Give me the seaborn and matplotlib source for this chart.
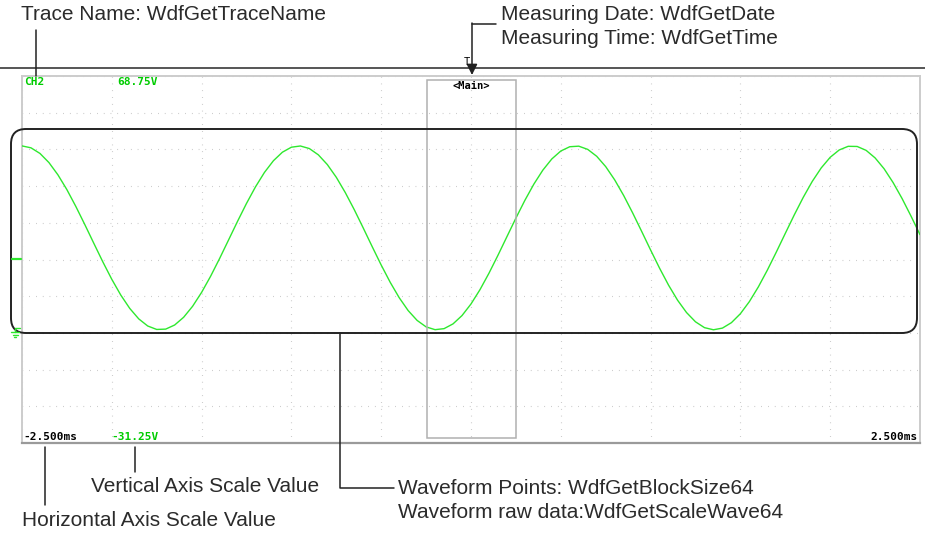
import numpy as np
import matplotlib.pyplot as plt
import seaborn as sns
from matplotlib.patches import FancyBboxPatch, Rectangle

# screen scale shown on the display
t_left, t_right = -2.5, 2.5        # ms
v_top, v_bottom = 68.75, -31.25    # V

# CH2 waveform, one value every 0.05 ms
ch2_volts = [
    49.70, 49.18, 47.65, 45.16, 41.82, 37.78, 33.18, 28.24, 23.15, 18.11,
    13.35, 9.06, 5.42, 2.57, 0.63, -0.31, -0.22, 0.90, 3.01, 6.01,
    9.79, 14.17, 19.00, 24.06, 29.14, 34.03, 38.54, 42.48, 45.67, 47.99,
    49.35, 49.68, 48.98, 47.27, 44.62, 41.15, 36.99, 32.33, 27.34, 22.24,
    17.24, 12.55, 8.36, 4.84, 2.15, 0.39, -0.37, -0.09, 1.21, 3.48,
    6.63, 10.53, 15.01, 19.89, 24.97, 30.03, 34.87, 39.29, 43.10, 46.15,
    48.31, 49.48, 49.63, 48.75, 46.87, 44.06, 40.45, 36.19, 31.45, 26.43,
    21.34, 16.38, 11.76, 7.67, 4.30, 1.77, 0.18, -0.40, 0.06, 1.54,
    3.98, 7.28, 11.29, 15.85, 20.78, 25.87, 30.91, 35.69, 40.02, 43.70,
    46.60, 48.59, 49.59, 49.55, 48.49, 46.43, 43.48, 39.73, 35.38, 30.57,
    25.52,
]
time_ms = np.linspace(t_left, t_right, len(ch2_volts))

# on-screen readouts
trace_name = "CH2"
v_top_label = "68.75V"
v_bottom_label = "-31.25V"
t_left_label = "-2.500ms"
t_right_label = "2.500ms"
zoom_label = "<Main>"

# callout texts
callouts = {
    "trace": ["Trace Name: WdfGetTraceName"],
    "date": ["Measuring Date: WdfGetDate", "Measuring Time: WdfGetTime"],
    "vscale": ["Vertical Axis Scale Value"],
    "hscale": ["Horizontal Axis Scale Value"],
    "wave": ["Waveform Points: WdfGetBlockSize64",
             "Waveform raw data:WdfGetScaleWave64"],
}

sns.set_style("white")
plt.rcParams['font.family'] = ['Liberation Sans', 'DejaVu Sans']

W, H = 925, 533
green = '#2ee82e'
txt_green = '#00cc00'
ink = '#2b2b2b'

fig = plt.figure(figsize=(W / 100, H / 100), dpi=100)

# scope screen, in pixel extents of the picture
sx0, sx1, sy0, sy1 = 22, 920, 76, 443
ax = fig.add_axes([sx0 / W, (H - sy1) / H, (sx1 - sx0) / W, (sy1 - sy0) / H])
sns.lineplot(x=time_ms, y=ch2_volts, ax=ax, color=green, linewidth=1.0, zorder=3)
ax.set_xlim(t_left, t_right)
ax.set_ylim(v_bottom, v_top)
ax.set_xticks(np.linspace(t_left, t_right, 11))
ax.set_yticks(np.linspace(v_bottom, v_top, 11))
ax.tick_params(length=0, labelbottom=False, labelleft=False)
ax.set_xlabel('')
ax.set_ylabel('')
ax.grid(True, color='#b5b5b5', linewidth=0.8, linestyle=(0, (0.6, 5.5)))
for side in ['top', 'left', 'right']:
    ax.spines[side].set_color('#cccccc')
    ax.spines[side].set_linewidth(1.4)
ax.spines['bottom'].set_color('#9a9a9a')
ax.spines['bottom'].set_linewidth(1.6)

# overlay in pixel coordinates for the callouts
ov = fig.add_axes([0, 0, 1, 1], zorder=5)
ov.set_xlim(0, W)
ov.set_ylim(H, 0)
ov.axis('off')
ov.patch.set_alpha(0)

lw = 1.1
dark = '#222222'

# separator line above the screen
ov.plot([0, W], [68, 68], color='#555555', lw=1.4)

# zoom window box
ov.add_patch(Rectangle((427, 80), 89, 358, fill=False, edgecolor='#b0b0b0', lw=1.1))
ov.text(471.5, 86, zoom_label, ha='center', va='center', fontsize=7.5,
        family='DejaVu Sans Mono', weight='bold', color='black')

# screen readouts
mono = dict(family='DejaVu Sans Mono', weight='bold', fontsize=8, va='center')
ov.text(24, 82, trace_name, color=txt_green, ha='left', **mono)
ov.text(117, 82, v_top_label, color=txt_green, ha='left', **mono)
ov.text(23, 437, t_left_label, color='black', ha='left', **mono)
ov.text(111, 437, v_bottom_label, color=txt_green, ha='left', **mono)
ov.text(918, 437, t_right_label, color='black', ha='right', **mono)

# trace position marker and ground symbol
ov.plot([12, 21], [259, 259], color=green, lw=1.6)
ov.plot([15, 20], [328, 328], color=green, lw=1.0)
ov.plot([15, 15], [328, 332], color=green, lw=1.0)
ov.plot([11, 19], [332, 332], color=green, lw=1.0)
ov.plot([12.5, 17.5], [334.5, 334.5], color=green, lw=1.0)
ov.plot([14, 16], [337, 337], color=green, lw=1.0)

# rounded frame around the waveform
ov.add_patch(FancyBboxPatch((11 + 15, 129 + 15), 906 - 30, 204 - 30,
                            boxstyle="round,pad=15", fill=False,
                            edgecolor=dark, lw=1.4))

# trigger mark
ov.plot([472, 496], [24, 24], color=dark, lw=lw)
ov.annotate('', xy=(472, 75), xytext=(472, 23),
            arrowprops=dict(arrowstyle='-|>', color=dark, lw=lw,
                            mutation_scale=16, shrinkA=0, shrinkB=0))
ov.text(467, 62, 'T', fontsize=7.5, family='DejaVu Sans Mono', ha='center',
        va='center', color='black')

# leader lines
ov.plot([36, 36], [30, 76], color=dark, lw=lw)
ov.plot([45, 45], [447, 505], color=dark, lw=lw)
ov.plot([135, 135], [447, 472], color=dark, lw=lw)
ov.plot([340, 340, 394], [333, 488, 488], color=dark, lw=lw)

# callout texts
big = dict(fontsize=15, color=ink, va='center', ha='left')
ov.text(21, 15, callouts["trace"][0], **big)
ov.text(501, 15, callouts["date"][0], **big)
ov.text(501, 39, callouts["date"][1], **big)
ov.text(91, 487, callouts["vscale"][0], **big)
ov.text(22, 520, callouts["hscale"][0], **big)
ov.text(398, 488, callouts["wave"][0], **big)
ov.text(398, 512, callouts["wave"][1], **big)

fig.savefig('out.png', dpi=100)
